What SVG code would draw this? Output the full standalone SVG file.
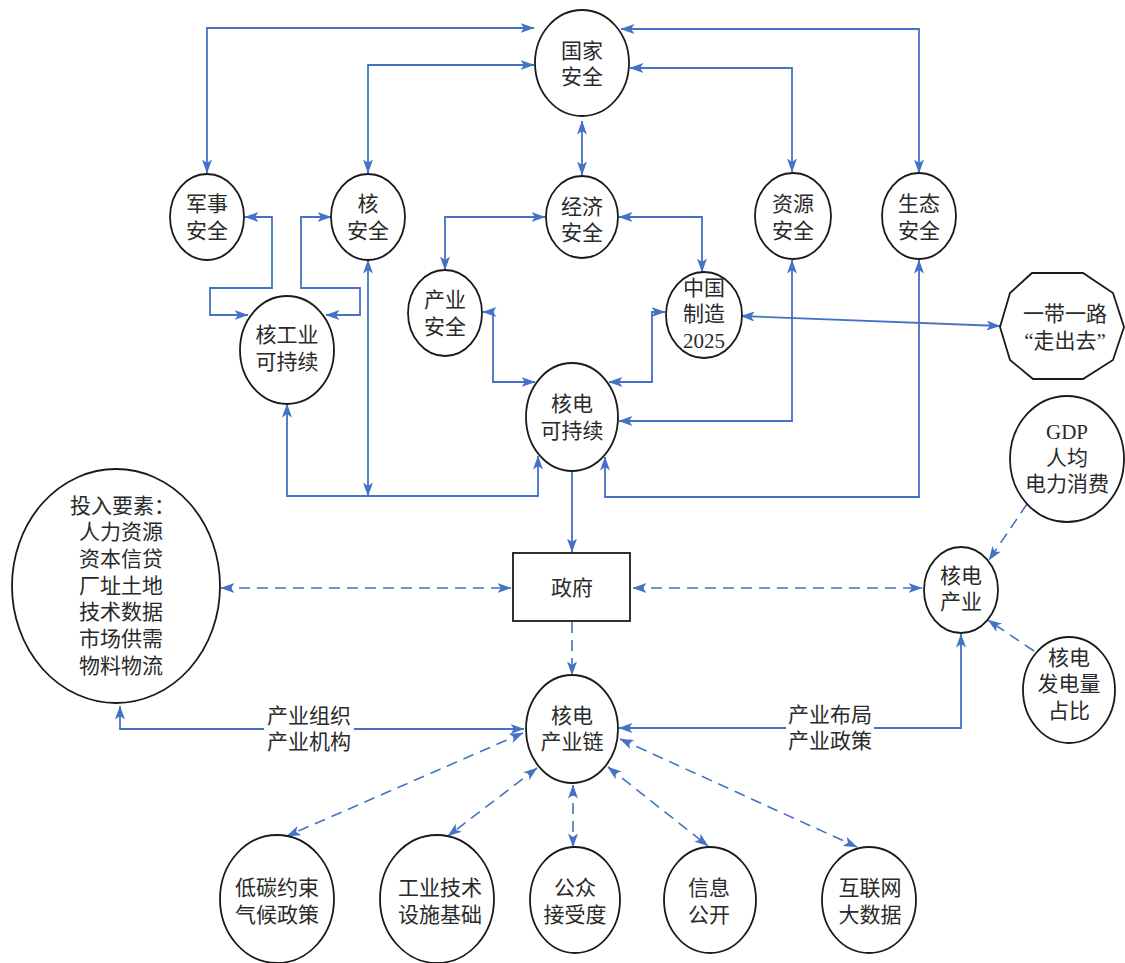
<svg xmlns="http://www.w3.org/2000/svg" width="1125" height="963" viewBox="0 0 1125 963">
<defs>
<style>
.n{fill:#fff;stroke:#1a1a1a;stroke-width:1.8}
.t{font-family:"Liberation Serif","Noto Sans CJK SC",serif;font-size:21px;fill:#2a2a2a;text-anchor:middle}
.c{fill:none;stroke:#4472C4;stroke-width:1.8}
.d{fill:none;stroke:#4472C4;stroke-width:1.6;stroke-dasharray:11 7}
</style>
<marker id="ah" viewBox="0 0 14 10" refX="13.5" refY="5" markerWidth="14" markerHeight="10" markerUnits="userSpaceOnUse" orient="auto-start-reverse">
<path d="M0,0 L14,5 L0,10 L3.5,5 z" fill="#4472C4"/>
</marker>
</defs>
<rect width="1125" height="963" fill="#fff"/>

<g id="connectors">
<path class="c" d="M207,173 V28 H534" marker-start="url(#ah)" marker-end="url(#ah)"/>
<path class="c" d="M368,173 V65 H534" marker-start="url(#ah)" marker-end="url(#ah)"/>
<path class="c" d="M621,29 H919 V173" marker-start="url(#ah)" marker-end="url(#ah)"/>
<path class="c" d="M630,68 H792 V172" marker-start="url(#ah)" marker-end="url(#ah)"/>
<path class="c" d="M582,121 V175" marker-start="url(#ah)" marker-end="url(#ah)"/>
<path class="c" d="M545,217 H445 V270" marker-start="url(#ah)" marker-end="url(#ah)"/>
<path class="c" d="M619,217 H702 V272" marker-start="url(#ah)" marker-end="url(#ah)"/>
<path class="c" d="M245,217 H272 V288 H210 V315 H248" marker-start="url(#ah)" marker-end="url(#ah)"/>
<path class="c" d="M331,217 H301 V288 H360 V315 H326" marker-start="url(#ah)" marker-end="url(#ah)"/>
<path class="c" d="M368,260 V496" marker-start="url(#ah)" marker-end="url(#ah)"/>
<path class="c" d="M287,404 V496 H538 V456" marker-start="url(#ah)" marker-end="url(#ah)"/>
<path class="c" d="M483,312 H493 V382 H535" marker-start="url(#ah)" marker-end="url(#ah)"/>
<path class="c" d="M665,312 H652 V382 H609" marker-start="url(#ah)" marker-end="url(#ah)"/>
<path class="c" d="M741,316 L1000,326" marker-start="url(#ah)" marker-end="url(#ah)"/>
<path class="c" d="M792,260 V421 H619" marker-start="url(#ah)" marker-end="url(#ah)"/>
<path class="c" d="M919,260 V497 H605 V457" marker-start="url(#ah)" marker-end="url(#ah)"/>
<path class="c" d="M572,471 V552" marker-end="url(#ah)"/>
<path class="d" d="M221,588 H511" marker-start="url(#ah)" marker-end="url(#ah)"/>
<path class="d" d="M633,588 H922" marker-start="url(#ah)" marker-end="url(#ah)"/>
<path class="d" d="M572,622 V675" marker-end="url(#ah)"/>
<path class="d" d="M1027,504 L989,560" marker-end="url(#ah)"/>
<path class="d" d="M1034,651 L988,620" marker-end="url(#ah)"/>
<path class="c" d="M120,706 V729 H524" marker-start="url(#ah)" marker-end="url(#ah)"/>
<path class="c" d="M961,634 V728 H619" marker-start="url(#ah)" marker-end="url(#ah)"/>
<path class="d" d="M523,733 L287,836" marker-start="url(#ah)" marker-end="url(#ah)"/>
<path class="d" d="M537,768 L448,836" marker-start="url(#ah)" marker-end="url(#ah)"/>
<path class="d" d="M573,785 V847" marker-start="url(#ah)" marker-end="url(#ah)"/>
<path class="d" d="M608,767 L708,846" marker-start="url(#ah)" marker-end="url(#ah)"/>
<path class="d" d="M620,739 L857,847" marker-start="url(#ah)" marker-end="url(#ah)"/>
<rect x="264" y="703" width="90" height="52" fill="#fff"/>
<text class="t" x="309" y="723">产业组织</text>
<text class="t" x="309" y="749">产业机构</text>
<rect x="786" y="703" width="88" height="52" fill="#fff"/>
<text class="t" x="830" y="722">产业布局</text>
<text class="t" x="830" y="748">产业政策</text>
</g>

<g id="guojia"><ellipse class="n" cx="582" cy="63" rx="47" ry="53"/><text class="t" x="582" y="58">国家</text><text class="t" x="582" y="84">安全</text></g>
<g id="junshi"><ellipse class="n" cx="207" cy="217" rx="37" ry="43"/><text class="t" x="207" y="211">军事</text><text class="t" x="207" y="238">安全</text></g>
<g id="he"><ellipse class="n" cx="368" cy="217" rx="37" ry="43"/><text class="t" x="368" y="211">核</text><text class="t" x="368" y="238">安全</text></g>
<g id="jingji"><ellipse class="n" cx="582" cy="217" rx="36" ry="41"/><text class="t" x="582" y="214">经济</text><text class="t" x="582" y="240">安全</text></g>
<g id="ziyuan"><ellipse class="n" cx="793" cy="216" rx="38" ry="43"/><text class="t" x="793" y="211">资源</text><text class="t" x="793" y="238">安全</text></g>
<g id="shengtai"><ellipse class="n" cx="919" cy="216" rx="37" ry="43"/><text class="t" x="919" y="211">生态</text><text class="t" x="919" y="238">安全</text></g>
<g id="hegongye"><ellipse class="n" cx="287" cy="350" rx="47" ry="54"/><text class="t" x="287" y="342">核工业</text><text class="t" x="287" y="369">可持续</text></g>
<g id="chanye"><ellipse class="n" cx="445" cy="313" rx="37" ry="43"/><text class="t" x="445" y="307">产业</text><text class="t" x="445" y="334">安全</text></g>
<g id="hedian"><ellipse class="n" cx="572" cy="417" rx="46" ry="54"/><text class="t" x="572" y="411">核电</text><text class="t" x="572" y="438">可持续</text></g>
<g id="zhongguo"><ellipse class="n" cx="704" cy="315" rx="38" ry="43"/><text class="t" x="704" y="295">中国</text><text class="t" x="704" y="321">制造</text><text class="t" x="704" y="348">2025</text></g>
<g id="yidaiyilu"><polygon class="n" points="1000,327 1010,293 1032,273 1083,273 1113,293 1124,327 1113,360 1083,379 1033,379 1010,360"/><text class="t" x="1065" y="321">一带一路</text><text class="t" x="1065" y="348">“走出去”</text></g>
<g id="gdp"><ellipse class="n" cx="1067" cy="459" rx="57" ry="63"/><text class="t" x="1067" y="439">GDP</text><text class="t" x="1067" y="465">人均</text><text class="t" x="1067" y="491">电力消费</text></g>
<g id="touru"><ellipse class="n" cx="116" cy="586" rx="104" ry="117"/>
<text class="t" style="text-anchor:start" x="70" y="513">投入要素：</text>
<text class="t" style="text-anchor:start" x="79" y="539">人力资源</text>
<text class="t" style="text-anchor:start" x="79" y="566">资本信贷</text>
<text class="t" style="text-anchor:start" x="79" y="593">厂址土地</text>
<text class="t" style="text-anchor:start" x="79" y="619">技术数据</text>
<text class="t" style="text-anchor:start" x="79" y="646">市场供需</text>
<text class="t" style="text-anchor:start" x="79" y="673">物料物流</text></g>
<g id="zhengfu"><rect class="n" x="513" y="553" width="117" height="68"/><text class="t" x="572" y="595">政府</text></g>
<g id="hedianchanye"><ellipse class="n" cx="961" cy="590" rx="37" ry="43"/><text class="t" x="961" y="583">核电</text><text class="t" x="961" y="609">产业</text></g>
<g id="fadianliang"><ellipse class="n" cx="1069" cy="690" rx="46" ry="53"/><text class="t" x="1069" y="665">核电</text><text class="t" x="1069" y="691">发电量</text><text class="t" x="1069" y="718">占比</text></g>
<g id="chanyelian"><ellipse class="n" cx="572" cy="729" rx="46" ry="54"/><text class="t" x="572" y="723">核电</text><text class="t" x="572" y="749">产业链</text></g>
<g id="ditan"><ellipse class="n" cx="277" cy="899" rx="57" ry="64"/><text class="t" x="277" y="895">低碳约束</text><text class="t" x="277" y="922">气候政策</text></g>
<g id="gongye"><ellipse class="n" cx="437" cy="899" rx="57" ry="64"/><text class="t" x="440" y="895">工业技术</text><text class="t" x="440" y="922">设施基础</text></g>
<g id="gongzhong"><ellipse class="n" cx="575" cy="900" rx="45" ry="53"/><text class="t" x="575" y="895">公众</text><text class="t" x="575" y="922">接受度</text></g>
<g id="xinxi"><ellipse class="n" cx="710" cy="900" rx="46" ry="53"/><text class="t" x="709" y="895">信息</text><text class="t" x="709" y="922">公开</text></g>
<g id="hulianwang"><ellipse class="n" cx="869" cy="900" rx="47" ry="53"/><text class="t" x="870" y="895">互联网</text><text class="t" x="870" y="922">大数据</text></g>
</svg>
